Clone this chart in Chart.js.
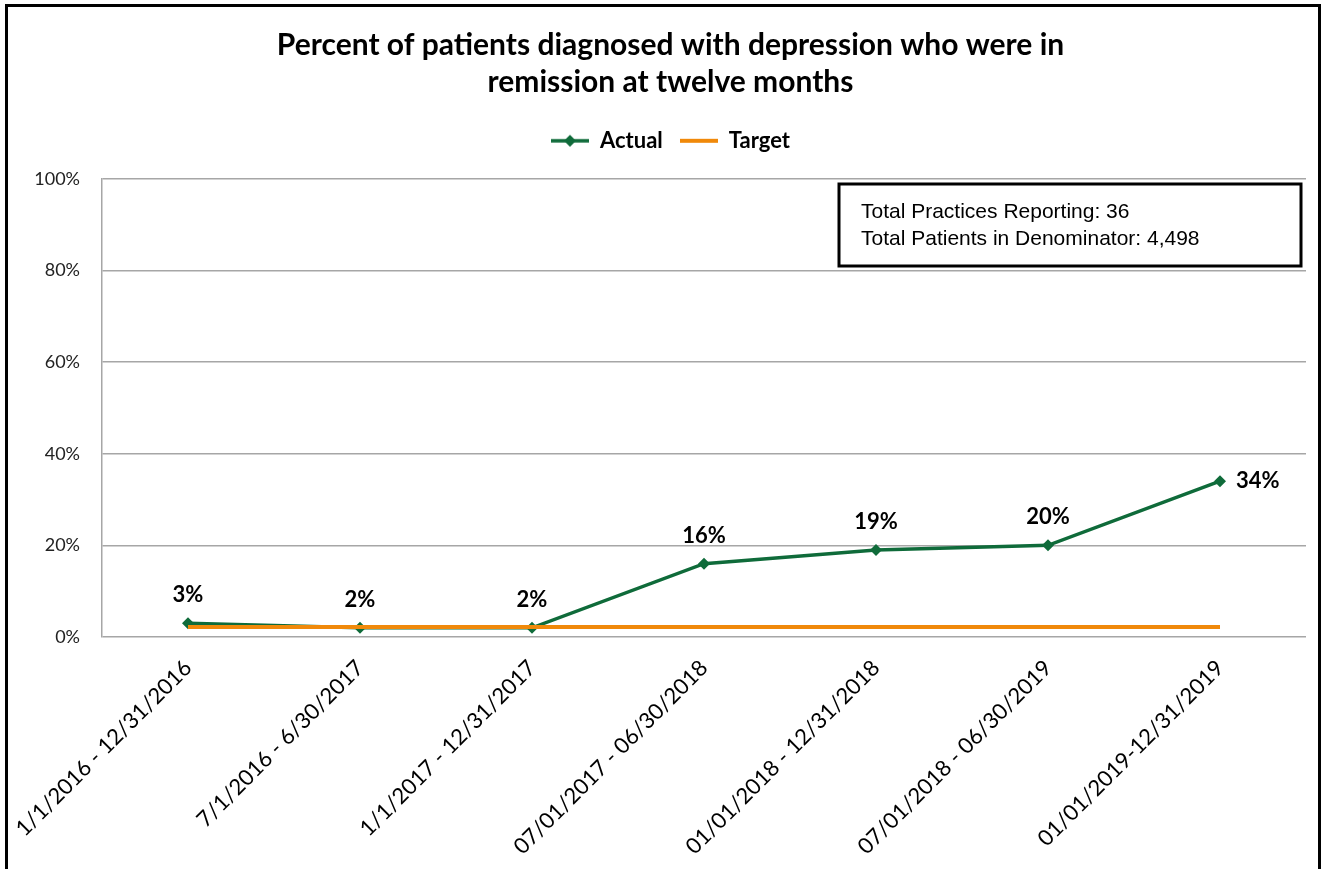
<!DOCTYPE html>
<html>
<head>
<meta charset="utf-8">
<script src="https://cdn.jsdelivr.net/npm/chart.js@4/dist/chart.umd.min.js"></script>
<style>
  html, body { margin: 0; padding: 0; background: #fff; }
  #wrap { position: relative; width: 1327px; height: 869px; overflow: hidden; }
  #frame { position: absolute; left: 5px; top: 4px; width: 1310px; height: 900px; border: 3px solid #000; pointer-events: none; }
  canvas { position: absolute; left: 0; top: 0; }
</style>
</head>
<body>
<div id="wrap">
  <canvas id="chart" width="1327" height="869"></canvas>
  <div id="frame"></div>
</div>
<script>
const periodos = [
    "1/1/2016 - 12/31/2016",
    "7/1/2016 - 6/30/2017",
    "1/1/2017 - 12/31/2017",
    "07/01/2017 - 06/30/2018",
    "01/01/2018 - 12/31/2018",
    "07/01/2018 - 06/30/2019",
    "01/01/2019-12/31/2019"
];
const actual = [3, 2, 2, 16, 19, 20, 34];
const target = [2.2, 2.2, 2.2, 2.2, 2.2, 2.2, 2.2];
const yTicks = [0, 20, 40, 60, 80, 100];
const notas = ["Total Practices Reporting: 36", "Total Patients in Denominator: 4,498"];

const verde = "#0f6b3a";
const naranja = "#f0890a";
const fuente = "Lato, 'Open Sans', sans-serif";

// iconos de la leyenda (linea + rombo)
function iconoLeyenda(color, rombo, grosor) {
    const c = document.createElement("canvas");
    c.width = 38; c.height = 14;
    const ctx = c.getContext("2d");
    ctx.strokeStyle = color;
    ctx.lineWidth = grosor;
    ctx.beginPath();
    ctx.moveTo(0, 7); ctx.lineTo(38, 7);
    ctx.stroke();
    if (rombo) {
        ctx.fillStyle = color;
        ctx.beginPath();
        ctx.moveTo(19, 1); ctx.lineTo(25, 7); ctx.lineTo(19, 13); ctx.lineTo(13, 7);
        ctx.closePath();
        ctx.fill();
    }
    return c;
}

// espacio extra debajo de la leyenda
const leyendaPlugin = {
    id: "leyendaExtra",
    beforeLayout(chart) {
        const ley = chart.legend;
        if (ley && !ley._parcheado) {
            const fit = ley.fit;
            ley.fit = function () {
                fit.call(this);
                this.height += 17;
            };
            ley._parcheado = true;
        }
    }
};

// etiquetas de datos
const etiquetasPlugin = {
    id: "etiquetas",
    afterDatasetsDraw(chart) {
        const meta = chart.getDatasetMeta(0);
        const ctx = chart.ctx;
        ctx.save();
        ctx.font = "bold 22px " + fuente;
        ctx.fillStyle = "#000";
        ctx.textBaseline = "middle";
        meta.data.forEach((pt, i) => {
            const txt = actual[i] + "%";
            if (i === meta.data.length - 1) {
                ctx.textAlign = "left";
                ctx.fillText(txt, pt.x + 16, pt.y);
            } else {
                ctx.textAlign = "center";
                ctx.fillText(txt, pt.x, pt.y - 28);
            }
        });
        ctx.restore();
    }
};

// cuadro de notas
const notasPlugin = {
    id: "notas",
    afterDraw(chart) {
        const ctx = chart.ctx;
        ctx.save();
        ctx.fillStyle = "#fff";
        ctx.fillRect(839, 184, 462, 82);
        ctx.strokeStyle = "#000";
        ctx.lineWidth = 3;
        ctx.strokeRect(839, 184, 462, 82);
        ctx.fillStyle = "#000";
        ctx.font = "21px 'Liberation Sans', Arial, sans-serif";
        ctx.textAlign = "left";
        ctx.textBaseline = "middle";
        ctx.fillText(notas[0], 861, 212);
        ctx.fillText(notas[1], 861, 239);
        ctx.restore();
    }
};

new Chart(document.getElementById("chart"), {
    type: "line",
    data: {
        labels: periodos,
        datasets: [
            {
                label: "Actual",
                data: actual,
                borderColor: verde,
                backgroundColor: verde,
                borderWidth: 3.5,
                pointStyle: "rectRot",
                pointRadius: 6,
                pointBackgroundColor: verde,
                pointBorderWidth: 0,
                tension: 0,
                order: 2
            },
            {
                label: "Target",
                data: target,
                borderColor: naranja,
                backgroundColor: naranja,
                borderWidth: 4,
                pointRadius: 0,
                tension: 0,
                order: 1
            }
        ]
    },
    options: {
        responsive: false,
        animation: false,
        layout: { padding: { left: 35, right: 21, top: 0, bottom: 4 } },
        plugins: {
            title: {
                display: true,
                text: ["Percent of patients diagnosed with depression who were in", "remission at twelve months"],
                color: "#000",
                font: { family: fuente, size: 30, weight: "bold", lineHeight: 1.23 },
                padding: { top: 27, bottom: 12 }
            },
            legend: {
                display: true,
                labels: {
                    color: "#000",
                    font: { family: fuente, size: 22, weight: "bold" },
                    usePointStyle: true,
                    pointStyleWidth: 38,
                    padding: 17,
                    generateLabels: () => [
                        { text: "Actual", pointStyle: iconoLeyenda(verde, true, 3.5), fontColor: "#000", datasetIndex: 0 },
                        { text: "Target", pointStyle: iconoLeyenda(naranja, false, 4), fontColor: "#000", datasetIndex: 1 }
                    ]
                }
            },
            tooltip: { enabled: false }
        },
        scales: {
            x: {
                offset: true,
                grid: { display: false, drawTicks: false },
                border: { display: false },
                ticks: {
                    color: "#000",
                    font: { family: fuente, size: 22 },
                    maxRotation: 45,
                    minRotation: 45,
                    autoSkip: false,
                    padding: 18
                },
                afterFit: (s) => {
                    s.height = 228;
                    s.paddingLeft = 0;
                    s.paddingRight = 0;
                }
            },
            y: {
                min: 0,
                max: 100,
                afterBuildTicks: (s) => { s.ticks = yTicks.map(v => ({ value: v })); },
                grid: { color: "#a6a6a6", lineWidth: 1.5, drawTicks: false },
                border: { display: true, color: "#a6a6a6", width: 1.5 },
                ticks: {
                    color: "#222",
                    font: { family: fuente, size: 18 },
                    padding: 22,
                    callback: (v) => v + "%"
                },
                afterFit: (s) => { s.width = 67; }
            }
        }
    },
    plugins: [leyendaPlugin, etiquetasPlugin, notasPlugin]
});
</script>
</body>
</html>
